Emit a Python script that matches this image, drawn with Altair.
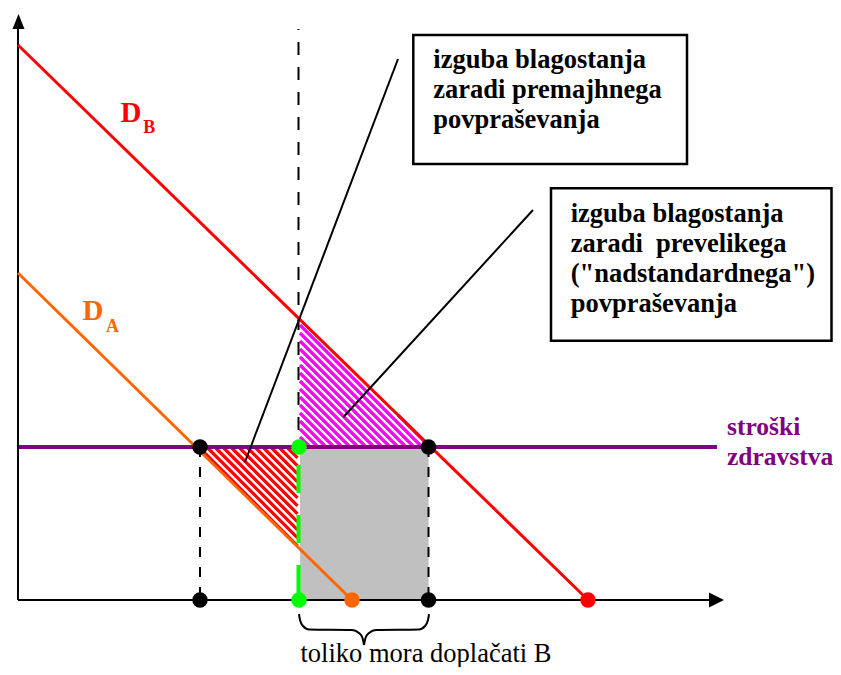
import altair as alt
import pandas as pd

# Coordinate system: quantity Q (x) and price P (y); origin where the two axes cross.
DB_P0, DB_Q0 = 555, 570        # demand D_B intercepts
DA_P0, DA_Q0 = 327, 334        # demand D_A intercepts
COST = 153                     # health-care cost level
Q_MID = 281                    # dashed vertical (quantity paid)

point_q = [182, 281, 410.5, 182, 281, 334, 410.5, 570]
point_p = [153, 153, 153, 0, 0, 0, 0, 0]
point_color = ["#000000", "#00ff00", "#000000", "#000000", "#00ff00", "#ff6600", "#000000", "#ff0000"]

box1_lines = ["izguba blagostanja", "zaradi premajhnega", "povpraševanja"]
box2_lines = ["izguba blagostanja", "zaradi\u00a0 prevelikega", "(\"nadstandardnega\")", "povpraševanja"]
cost_lines = ["stroški", "zdravstva"]
bottom_text = "toliko mora doplačati B"

# brace below the axis (two halves)
brace_left_q = [281, 282, 285, 291, 334, 341, 344.5, 346]
brace_left_p = [-14, -20, -26, -29.5, -30, -33, -38, -45]
brace_right_q = [411, 410, 407, 401, 358, 351, 347.5, 346]
brace_right_p = [-14, -20, -26, -29.5, -30, -33, -38, -45]

XS = alt.Scale(domain=[-10, 815], nice=False, zero=False)
YS = alt.Scale(domain=[-67, 592], nice=False, zero=False)


def X(f):
    return alt.X(f, type="quantitative", scale=XS, axis=None)


def Y(f):
    return alt.Y(f, type="quantitative", scale=YS, axis=None)


def db(q):
    return DB_P0 * (1 - q / DB_Q0)


def da(q):
    return DA_P0 * (1 - q / DA_Q0)


def hatch(poly, step, phase=0.0):
    s = [a + b for a, b in poly]
    lo, hi = min(s), max(s)
    rows = []
    c = lo + phase
    while c <= hi:
        pts = []
        n = len(poly)
        for i in range(n):
            (x1, y1), (x2, y2) = poly[i], poly[(i + 1) % n]
            f1, f2 = x1 + y1 - c, x2 + y2 - c
            if f1 == f2:
                continue
            t = f1 / (f1 - f2)
            if 0 <= t <= 1:
                pts.append((x1 + t * (x2 - x1), y1 + t * (y2 - y1)))
        if len(pts) >= 2:
            pts.sort()
            rows.append({"q": pts[0][0], "p": pts[0][1], "q2": pts[-1][0], "p2": pts[-1][1]})
        c += step
    return pd.DataFrame(rows)


def seg(rows):
    return pd.DataFrame(rows, columns=["q", "p", "q2", "p2"])


def rule(df, **kw):
    return alt.Chart(df).mark_rule(**kw).encode(x=X("q"), y=Y("p"), x2=alt.X2("q2"), y2=alt.Y2("p2"))


q_cross_b = DB_Q0 * (1 - COST / DB_P0)
q_cross_a = DA_Q0 * (1 - COST / DA_P0)

gray = alt.Chart(seg([[282, 0, 410.5, COST]])).mark_rect(color="#c0c0c0").encode(
    x=X("q"), x2=alt.X2("q2"), y=Y("p"), y2=alt.Y2("p2"))

magenta_poly = [(282, db(282)), (282, COST), (q_cross_b, COST)]
red_poly = [(q_cross_a, COST), (279.5, COST), (279.5, da(279.5))]
hatch_m = rule(hatch(magenta_poly, 8, 2), color="#ff00ff", strokeWidth=3.2)
hatch_r = rule(hatch(red_poly, 8, 3), color="#ff0000", strokeWidth=3.2)

dash_top = rule(seg([[280.5, 571, 280.5, COST]]), color="#000000", strokeWidth=2,
                strokeDash=[13, 12], strokeDashOffset=12)
dash_left = rule(seg([[182, COST, 182, 0]]), color="#000000", strokeWidth=2, strokeDash=[10, 10])
dash_right = rule(seg([[410.5, COST, 410.5, 0]]), color="#000000", strokeWidth=2, strokeDash=[10, 10])
dash_green = rule(seg([[280.5, COST, 280.5, 0]]), color="#00ff00", strokeWidth=4,
                  strokeDash=[28, 22], strokeDashOffset=32)

cost_line = rule(seg([[0, COST, 699, COST]]), color="#800080", strokeWidth=4)
x_axis = rule(seg([[0, 0, 692, 0]]), color="#000000", strokeWidth=2)
y_axis = rule(seg([[0, 0, 0, 572]]), color="#000000", strokeWidth=2)

arrows = alt.Chart(pd.DataFrame({
    "q": [0.5, 698.5], "p": [578.5, 0],
    "s": ["M0,-1L0.8,1L-0.8,1Z", "M1,0L-1,-1L-1,1Z"],
})).mark_point(filled=True, size=225, color="#000000", opacity=1, strokeWidth=0).encode(
    x=X("q"), y=Y("p"), shape=alt.Shape("s:N", scale=None))

line_b = rule(seg([[0, DB_P0, DB_Q0, 0]]), color="#ff0000", strokeWidth=3)
line_a = rule(seg([[0, DA_P0, DA_Q0, 0]]), color="#ff6600", strokeWidth=3)

pointers = rule(seg([[380, 541, 227, 138], [515, 390, 325.3, 182.7]]), color="#000000", strokeWidth=2)

boxes = alt.Chart(seg([[395.3, 436, 669, 565], [533, 259.3, 813.5, 411.7]])).mark_rect(
    fill="#ffffff", stroke="#000000", strokeWidth=2.5).encode(
    x=X("q"), x2=alt.X2("q2"), y=Y("p"), y2=alt.Y2("p2"))

FONT = "'Liberation Serif', 'Times New Roman', 'DejaVu Serif', serif"
text_rows = []
for i, t in enumerate(box1_lines):
    text_rows.append({"q": 415.3, "p": 532 - 30 * i, "t": t, "c": "#000000", "s": 26.5})
for i, t in enumerate(box2_lines):
    text_rows.append({"q": 552.7, "p": 378.5 - 30 * i, "t": t, "c": "#000000", "s": 26.5})
for i, t in enumerate(cost_lines):
    text_rows.append({"q": 709, "p": 165 - 30 * i, "t": t, "c": "#800080", "s": 25.5})
texts = alt.Chart(pd.DataFrame(text_rows)).mark_text(
    font=FONT, fontWeight="bold", align="left", baseline="alphabetic").encode(
    x=X("q"), y=Y("p"), text="t:N", color=alt.Color("c:N", scale=None),
    size=alt.Size("s:Q", scale=None))

bottom = alt.Chart(pd.DataFrame({"q": [282.5], "p": [-62], "t": [bottom_text]})).mark_text(
    font=FONT, fontSize=26.5, align="left", baseline="alphabetic", color="#000000").encode(
    x=X("q"), y=Y("p"), text="t:N")

big_labels = alt.Chart(pd.DataFrame({
    "q": [102.5, 64.5], "p": [478.5, 280], "t": ["D", "D"], "c": ["#ff0000", "#ff6600"]})).mark_text(
    font=FONT, fontSize=29, fontWeight="bold", align="left", baseline="alphabetic").encode(
    x=X("q"), y=Y("p"), text="t:N", color=alt.Color("c:N", scale=None))
sub_labels = alt.Chart(pd.DataFrame({
    "q": [125.3, 88], "p": [466.7, 268.3], "t": ["B", "A"], "c": ["#ff0000", "#ff6600"]})).mark_text(
    font=FONT, fontSize=18, fontWeight="bold", align="left", baseline="alphabetic").encode(
    x=X("q"), y=Y("p"), text="t:N", color=alt.Color("c:N", scale=None))

points = alt.Chart(pd.DataFrame({"q": point_q, "p": point_p, "c": point_color})).mark_circle(
    size=240, opacity=1).encode(x=X("q"), y=Y("p"), color=alt.Color("c:N", scale=None))

brace_df = pd.DataFrame({
    "q": brace_left_q + brace_right_q,
    "p": brace_left_p + brace_right_p,
    "h": ["L"] * len(brace_left_q) + ["R"] * len(brace_right_q),
})
brace = alt.Chart(brace_df).mark_line(color="#000000", strokeWidth=2, interpolate="monotone").encode(
    x=X("q"), y=Y("p"), detail="h:N")

chart = alt.layer(
    gray, hatch_m, hatch_r, dash_top, dash_left, dash_right, dash_green,
    cost_line, x_axis, y_axis, arrows, line_b, line_a, pointers, boxes,
    texts, bottom, big_labels, sub_labels, points, brace,
).properties(
    width=825, height=659, padding=0, autosize=alt.AutoSizeParams(type="none"),
).configure_view(strokeWidth=0)

chart.save("out.html", embed_options={"renderer": "svg", "actions": False})
